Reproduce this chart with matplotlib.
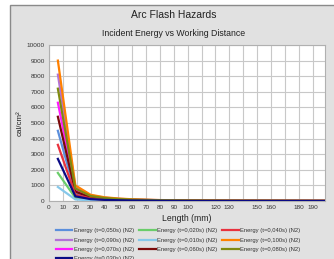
import matplotlib
matplotlib.use("Agg")
import matplotlib.pyplot as plt
from matplotlib.patches import Rectangle

plt.rcParams['font.family'] = ['Liberation Sans', 'DejaVu Sans']

# distances (mm)
lengths = [6.4, 19, 30, 40, 50, 60, 80, 100, 130, 199]

series_labels = [
    "Energy (t=0,050s) (N2)", "Energy (t=0,090s) (N2)", "Energy (t=0,070s) (N2)",
    "Energy (t=0,030s) (N2)", "Energy (t=0,020s) (N2)", "Energy (t=0,010s) (N2)",
    "Energy (t=0,060s) (N2)", "Energy (t=0,040s) (N2)", "Energy (t=0,100s) (N2)",
    "Energy (t=0,080s) (N2)",
]
e_050 = [4500, 500, 200, 120, 80, 55, 30, 19, 11, 5]
e_090 = [8100, 900, 360, 216, 144, 99, 54, 34, 20, 9]
e_070 = [6300, 700, 280, 168, 112, 77, 42, 27, 15, 7]
e_030 = [2700, 300, 120, 72, 48, 33, 18, 11, 7, 3]
e_020 = [1800, 200, 80, 48, 32, 22, 12, 8, 4, 2]
e_010 = [900, 100, 40, 24, 16, 11, 6, 4, 2, 1]
e_060 = [5400, 600, 240, 144, 96, 66, 36, 23, 13, 6]
e_040 = [3600, 400, 160, 96, 64, 44, 24, 15, 9, 4]
e_100 = [9000, 1000, 400, 240, 160, 110, 60, 38, 22, 10]
e_080 = [7200, 800, 320, 192, 128, 88, 48, 30, 18, 8]
series_values = [e_050, e_090, e_070, e_030, e_020, e_010, e_060, e_040, e_100, e_080]
colors = ["#5b8fdc", "#b372d6", "#ff1aff", "#0a0a85", "#6acd6a", "#86c8ea",
          "#7a0a0a", "#e8323e", "#ff8000", "#7f8a10"]
zorders = [3, 3, 3, 5, 3, 3, 3, 3, 3, 3]

x_ticks = list(range(0, 200, 10))
x_tick_labels = [("" if v in (110, 140, 170) else str(v)) for v in x_ticks]
y_ticks = list(range(0, 10001, 1000))

fig = plt.figure(figsize=(3.34, 2.59), dpi=100)
fig.patch.set_facecolor("white")
W, H = 334, 259
fig.patches.append(Rectangle((10 / W, -0.1), 1.2, (254 / H) + 0.1, transform=fig.transFigure,
                             facecolor="#e1e1e1", edgecolor="#8a8a8a", linewidth=1.0, zorder=-10))

ax = fig.add_axes([49 / W, 1 - 201 / H, (325 - 49) / W, (201 - 45) / H])
ax.set_facecolor("white")
ax.set_zorder(1)

handles = []
for lab, vals, c, z in zip(series_labels, series_values, colors, zorders):
    h, = ax.plot(lengths, vals, color=c, lw=1.6, label=lab, zorder=z, solid_joinstyle="miter")
    handles.append(h)

ax.set_xlim(0, 199)
ax.set_ylim(0, 10000)
ax.set_xticks(x_ticks)
ax.set_xticklabels(x_tick_labels)
ax.set_yticks(y_ticks)
ax.tick_params(axis="both", labelsize=4.6, length=0, pad=3, colors="#333333")
ax.grid(True, color="#c8c8c8", lw=0.8)
ax.set_axisbelow(True)
for s in ax.spines.values():
    s.set_color("#b0b0b0")
    s.set_linewidth(0.8)

ax.set_xlabel("Length (mm)", fontsize=6.2, color="#222222", labelpad=3)
ax.set_ylabel("cal/cm²", fontsize=5.8, color="#222222", labelpad=2)

fig.text(0.5 + 0.02, 1 - 15 / H, "Arc Flash Hazards", ha="center", va="center",
         fontsize=7.5, color="#222222")
fig.text(0.5 + 0.02, 1 - 33 / H, "Incident Energy vs Working Distance", ha="center",
         va="center", fontsize=6.3, color="#222222")

leg = fig.legend(handles=handles, ncol=3, loc="upper left",
                 bbox_to_anchor=(56 / W, 1 - 228 / H), fontsize=4.2, frameon=False,
                 handlelength=2.8, handletextpad=0.25, columnspacing=0.9,
                 labelspacing=0.75, borderaxespad=0, borderpad=0)
for t in leg.get_texts():
    t.set_color("#333333")

fig.savefig("out.png", dpi=100)
